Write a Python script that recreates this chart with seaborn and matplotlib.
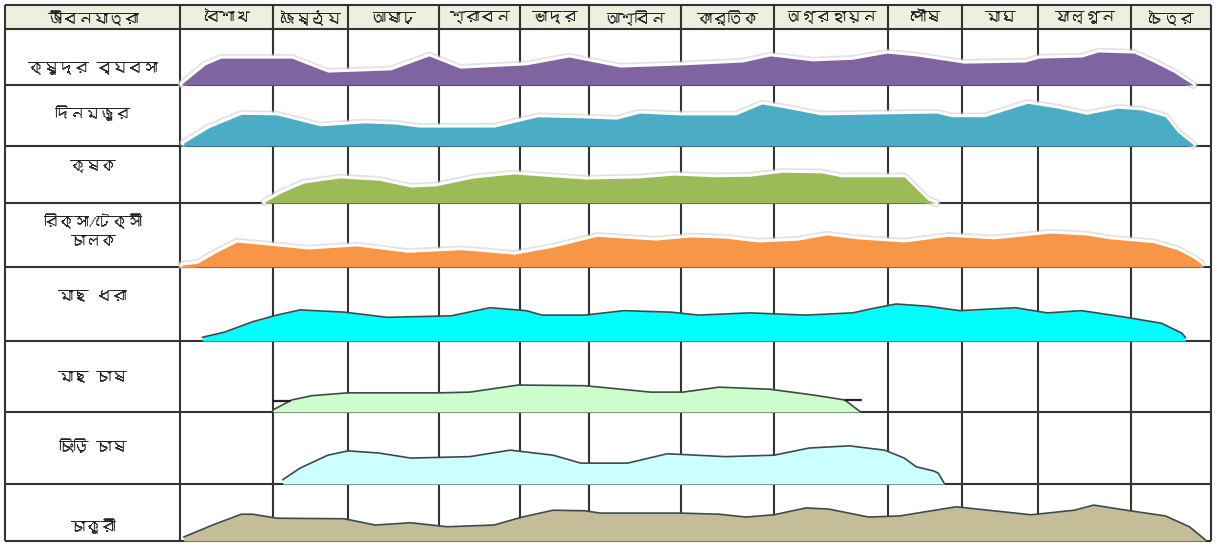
import numpy as np
import matplotlib
matplotlib.use("Agg")
import matplotlib.pyplot as plt
from matplotlib import font_manager
from matplotlib.ft2font import FT2Font
import seaborn as sns

corner_label = "জীবনযাত্রা"
months = ["বৈশাখ", "জৈষ্ঠ্য", "আষাঢ়", "শ্রাবন", "ভাদ্র", "আশ্বিন", "কার্তিক",
          "অগ্রহায়ন", "পৌষ", "মাঘ", "ফাল্গুন", "চৈত্র"]
livelihoods = ["ক্ষুদ্র ব্যবসা", "দিনমজুর", "কৃষক", "রিক্সা/টেক্সী\nচালক",
               "মাছ ধরা", "মাছ চাষ", "চিংড়ি চাষ", "চাকুরী"]

# x = position in the year in months (0 = start of বৈশাখ, 12 = end of চৈত্র)
# y = activity level as a share of the row height
small_trade_x = [0.02, 0.27, 0.44, 1.25, 1.73, 2.47, 2.89, 3.26, 4.09, 4.71, 5.34, 6.02, 6.66, 6.96,
                 7.34, 7.69, 7.99, 8.38, 9.03, 9.83, 10.01, 10.47, 10.65, 11.04, 11.28, 11.53, 11.78]
small_trade_y = [0.02, 0.36, 0.48, 0.48, 0.23, 0.27, 0.52, 0.30, 0.36, 0.50, 0.32, 0.36, 0.41, 0.52,
                 0.43, 0.46, 0.57, 0.52, 0.39, 0.41, 0.48, 0.50, 0.59, 0.57, 0.41, 0.23, 0.0]

day_labour_x = [0.04, 0.31, 0.66, 1.05, 1.63, 2.18, 2.52, 2.78, 3.68, 4.26, 4.94, 5.30, 5.55, 5.98,
                6.59, 6.87, 7.11, 7.41, 8.65, 8.86, 9.30, 9.86, 10.22, 10.52, 10.86, 11.14, 11.43,
                11.58, 11.78]
day_labour_y = [0.05, 0.30, 0.52, 0.51, 0.33, 0.38, 0.36, 0.31, 0.31, 0.48, 0.46, 0.44, 0.54, 0.51,
                0.51, 0.69, 0.62, 0.51, 0.54, 0.48, 0.48, 0.70, 0.62, 0.52, 0.62, 0.59, 0.48,
                0.23, 0.02]

farmer_x = [0.91, 1.11, 1.41, 1.89, 2.34, 2.69, 2.96, 3.43, 3.93, 4.48, 4.94, 5.55, 5.92, 6.37,
            6.74, 7.07, 7.41, 7.59, 8.22, 8.54, 8.65]
farmer_y = [0.02, 0.18, 0.35, 0.44, 0.40, 0.28, 0.30, 0.44, 0.51, 0.46, 0.42, 0.44, 0.49, 0.46,
            0.47, 0.54, 0.53, 0.46, 0.46, 0.05, 0.0]

driver_x = [0.02, 0.19, 0.38, 0.61, 1.05, 1.47, 2.09, 2.65, 3.28, 3.93, 4.48, 5.09, 5.72, 6.11,
            6.48, 6.83, 7.21, 7.46, 7.73, 8.22, 8.81, 9.43, 10.14, 10.52, 10.77, 11.28, 11.58,
            11.78, 11.88]
driver_y = [0.03, 0.06, 0.22, 0.39, 0.33, 0.28, 0.33, 0.23, 0.27, 0.20, 0.31, 0.48, 0.42, 0.47,
            0.45, 0.39, 0.42, 0.50, 0.44, 0.39, 0.48, 0.44, 0.53, 0.50, 0.44, 0.38, 0.27,
            0.14, 0.05]

fishing_x = [0.24, 0.48, 0.78, 1.05, 1.36, 1.95, 2.43, 3.15, 3.63, 4.09, 4.32, 4.94, 5.38, 5.89,
             6.19, 6.74, 7.28, 7.69, 7.90, 8.11, 8.54, 8.97, 9.70, 10.10, 10.47, 10.95, 11.38,
             11.63, 11.68]
fishing_y = [0.05, 0.12, 0.26, 0.35, 0.42, 0.39, 0.32, 0.34, 0.45, 0.41, 0.35, 0.35, 0.41, 0.39,
             0.35, 0.38, 0.35, 0.38, 0.45, 0.50, 0.47, 0.41, 0.45, 0.38, 0.41, 0.32, 0.24,
             0.11, 0.05]

fish_farm_x = [1.0, 1.25, 1.52, 2.0, 3.0, 3.38, 3.98, 4.94, 5.12, 5.67, 6.02, 6.41, 6.96, 7.34,
               7.62, 7.76]
fish_farm_y = [0.03, 0.17, 0.23, 0.27, 0.27, 0.28, 0.38, 0.37, 0.35, 0.28, 0.28, 0.35, 0.32, 0.24,
               0.17, 0.0]

shrimp_farm_x = [1.13, 1.36, 1.73, 2.0, 2.34, 2.69, 3.38, 3.88, 4.48, 4.88, 5.42, 5.85, 6.48, 7.0,
                 7.31, 7.66, 7.97, 8.22, 8.38, 8.62, 8.68, 8.76]
shrimp_farm_y = [0.06, 0.22, 0.40, 0.46, 0.43, 0.36, 0.38, 0.47, 0.40, 0.29, 0.29, 0.42, 0.38, 0.40,
                 0.50, 0.53, 0.47, 0.36, 0.24, 0.18, 0.15, 0.01]

service_x = [0.04, 0.35, 0.66, 0.78, 1.05, 1.95, 2.30, 2.69, 3.10, 3.68, 4.03, 4.48, 4.94, 5.12,
             5.98, 6.41, 6.70, 7.0, 7.28, 7.48, 7.83, 8.16, 8.92, 9.91, 10.39, 10.60, 10.99,
             11.43, 11.73, 11.93]
service_y = [0.07, 0.28, 0.47, 0.47, 0.40, 0.39, 0.28, 0.32, 0.25, 0.28, 0.42, 0.54, 0.53, 0.49,
             0.49, 0.47, 0.42, 0.46, 0.58, 0.56, 0.42, 0.44, 0.60, 0.46, 0.54, 0.63, 0.53,
             0.44, 0.25, 0.02]

# small end strokes drawn beside the fish farming band
fish_farm_marks_x = [[1.0, 1.22], [7.62, 7.76]]
fish_farm_marks_y = [0.16, 0.17]

series = [
    (small_trade_x, small_trade_y, "#8064A2", "glow"),
    (day_labour_x, day_labour_y, "#4BACC6", "glow"),
    (farmer_x, farmer_y, "#9BBB59", "glow"),
    (driver_x, driver_y, "#F79646", "glow"),
    (fishing_x, fishing_y, "#00FFFF", "dark"),
    (fish_farm_x, fish_farm_y, "#CCFFCC", "dark"),
    (shrimp_farm_x, shrimp_farm_y, "#CCFFFF", "dark"),
    (service_x, service_y, "#C4BD97", "dark"),
]

# table layout in figure pixels
col_edges = [5, 180, 273, 348, 439, 520, 589, 681, 774, 888, 962, 1038, 1131, 1211]
row_edges = [5, 29, 85, 146, 203, 267, 341, 412, 484, 541]
label_shift = [12, -2, -8, -4, -7, 1, -1, 14]


def find_bengali_font():
    for f in font_manager.fontManager.ttflist:
        try:
            if 0x0995 in FT2Font(f.fname).get_charmap():
                return f.name
        except Exception:
            continue
    return None


sns.set_theme(style="white")
bengali = find_bengali_font()
plt.rcParams["font.family"] = [bengali, "DejaVu Sans"] if bengali else ["DejaVu Sans"]

fig = plt.figure(figsize=(12.17, 5.47), dpi=100)
ax = fig.add_axes([0, 0, 1, 1])
ax.axis("off")

month_px = np.array(col_edges[1:], dtype=float)


def to_x(m):
    return np.interp(np.asarray(m, dtype=float), np.arange(13), month_px)


def to_y(level, row):
    top, bottom = row_edges[row + 1], row_edges[row + 2]
    return bottom - np.asarray(level, dtype=float) * (bottom - top)


# header background
ax.fill_between([col_edges[0], col_edges[-1]], row_edges[0], row_edges[1],
                color="#EBF1DE", zorder=0)

# grid
line_kw = dict(color="#333333", lw=1.5, zorder=1, solid_capstyle="butt")
for x in col_edges:
    ax.plot([x, x], [row_edges[0], row_edges[-1]], **line_kw)
for y in row_edges:
    ax.plot([col_edges[0], col_edges[-1]], [y, y], **line_kw)

text_kw = dict(ha="center", va="center", fontsize=11, color="#1a1a1a")

# header text
header_y = (row_edges[0] + row_edges[1]) / 2 + 1
ax.text((col_edges[0] + col_edges[1]) / 2, header_y, corner_label, **text_kw)
for i, name in enumerate(months):
    ax.text((col_edges[i + 1] + col_edges[i + 2]) / 2, header_y, name, **text_kw)

# livelihood bands
for r, (xs, ys, color, edge) in enumerate(series):
    px = to_x(xs)
    py = to_y(ys, r)
    base = to_y(np.zeros_like(px), r)
    if edge == "glow":
        sns.lineplot(x=px, y=py, ax=ax, color="#d0d0d0", lw=6, alpha=0.6,
                     sort=False, estimator=None, zorder=2, solid_joinstyle="round")
        sns.lineplot(x=px, y=py, ax=ax, color="white", lw=3.5,
                     sort=False, estimator=None, zorder=2.5, solid_joinstyle="round")
        ax.fill_between(px, py, base, color=color, lw=0, zorder=3)
    else:
        ax.fill_between(px, py, base, color=color, lw=0, zorder=3)
        sns.lineplot(x=px, y=py, ax=ax, color="#3d4a4a", lw=1.2,
                     sort=False, estimator=None, zorder=4, solid_joinstyle="round")
    ax.text((col_edges[0] + col_edges[1]) / 2,
            (row_edges[r + 1] + row_edges[r + 2]) / 2 + label_shift[r],
            livelihoods[r], linespacing=1.6, **text_kw)

for mx, my in zip(fish_farm_marks_x, fish_farm_marks_y):
    ax.plot(to_x(mx), to_y([my, my], 5), color="#222222", lw=1.6, zorder=4)

ax.set_xlim(0, 1217)
ax.set_ylim(547, 0)
fig.savefig("out.png", dpi=100, facecolor="white")
